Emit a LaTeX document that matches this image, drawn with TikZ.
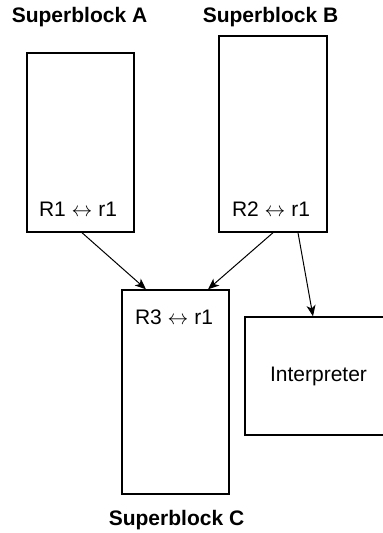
\documentclass[tikz,border=0pt]{standalone}
\usepackage{fontspec}
\setmainfont{Liberation Sans}
\usetikzlibrary{arrows.meta}

\begin{document}
\begin{tikzpicture}[
		x=1pt, y=-1pt,
		blk/.style = {rectangle, draw=black, line width=1.4pt, inner sep=0pt},
		lbl/.style = {font=\fontsize{21}{24}\selectfont, inner sep=0pt},
		ttl/.style = {font=\fontsize{21}{24}\selectfont\bfseries, inner sep=0pt},
		r/.style = {-{Stealth[length=11pt, width=9pt, inset=3pt]}, line width=1pt}
		]
		\useasboundingbox (0,0) rectangle (383,533);
		
		%Nodes
		\node[blk, minimum width=107, minimum height=179]	(A)	at	(80.5, 142.5)	{};
		\node[blk, minimum width=108, minimum height=196]	(B)	at	(273, 134)		{};
		\node[blk, minimum width=107, minimum height=204]	(C)	at	(175.5, 392)	{};
		\node[blk, minimum width=147, minimum height=118, lbl]	(I)	at	(318.5, 376)	{Interpreter};
		\node[lbl]	(Ar)	at	(78, 209)	{R1 $\leftrightarrow$ r1};
		\node[lbl]	(Br)	at	(271, 209)	{R2 $\leftrightarrow$ r1};
		\node[lbl]	(Cr)	at	(174, 317)	{R3 $\leftrightarrow$ r1};
		\node[ttl]	(At)	at	(79.5, 17)	{Superblock A};
		\node[ttl]	(Bt)	at	(270.5, 17)	{Superblock B};
		\node[ttl]	(Ct)	at	(176.5, 520)	{Superblock C};
		
		%Lines
		\draw[r]	([xshift=1.5pt]A.south)	to	([xshift=-29.5pt]C.north);
		\draw[r]	(B.south)	to	([xshift=32.5pt]C.north);
		\draw[r]	([xshift=25pt]B.south)	to	([xshift=-5.5pt]I.north);
	\end{tikzpicture}
\end{document}
